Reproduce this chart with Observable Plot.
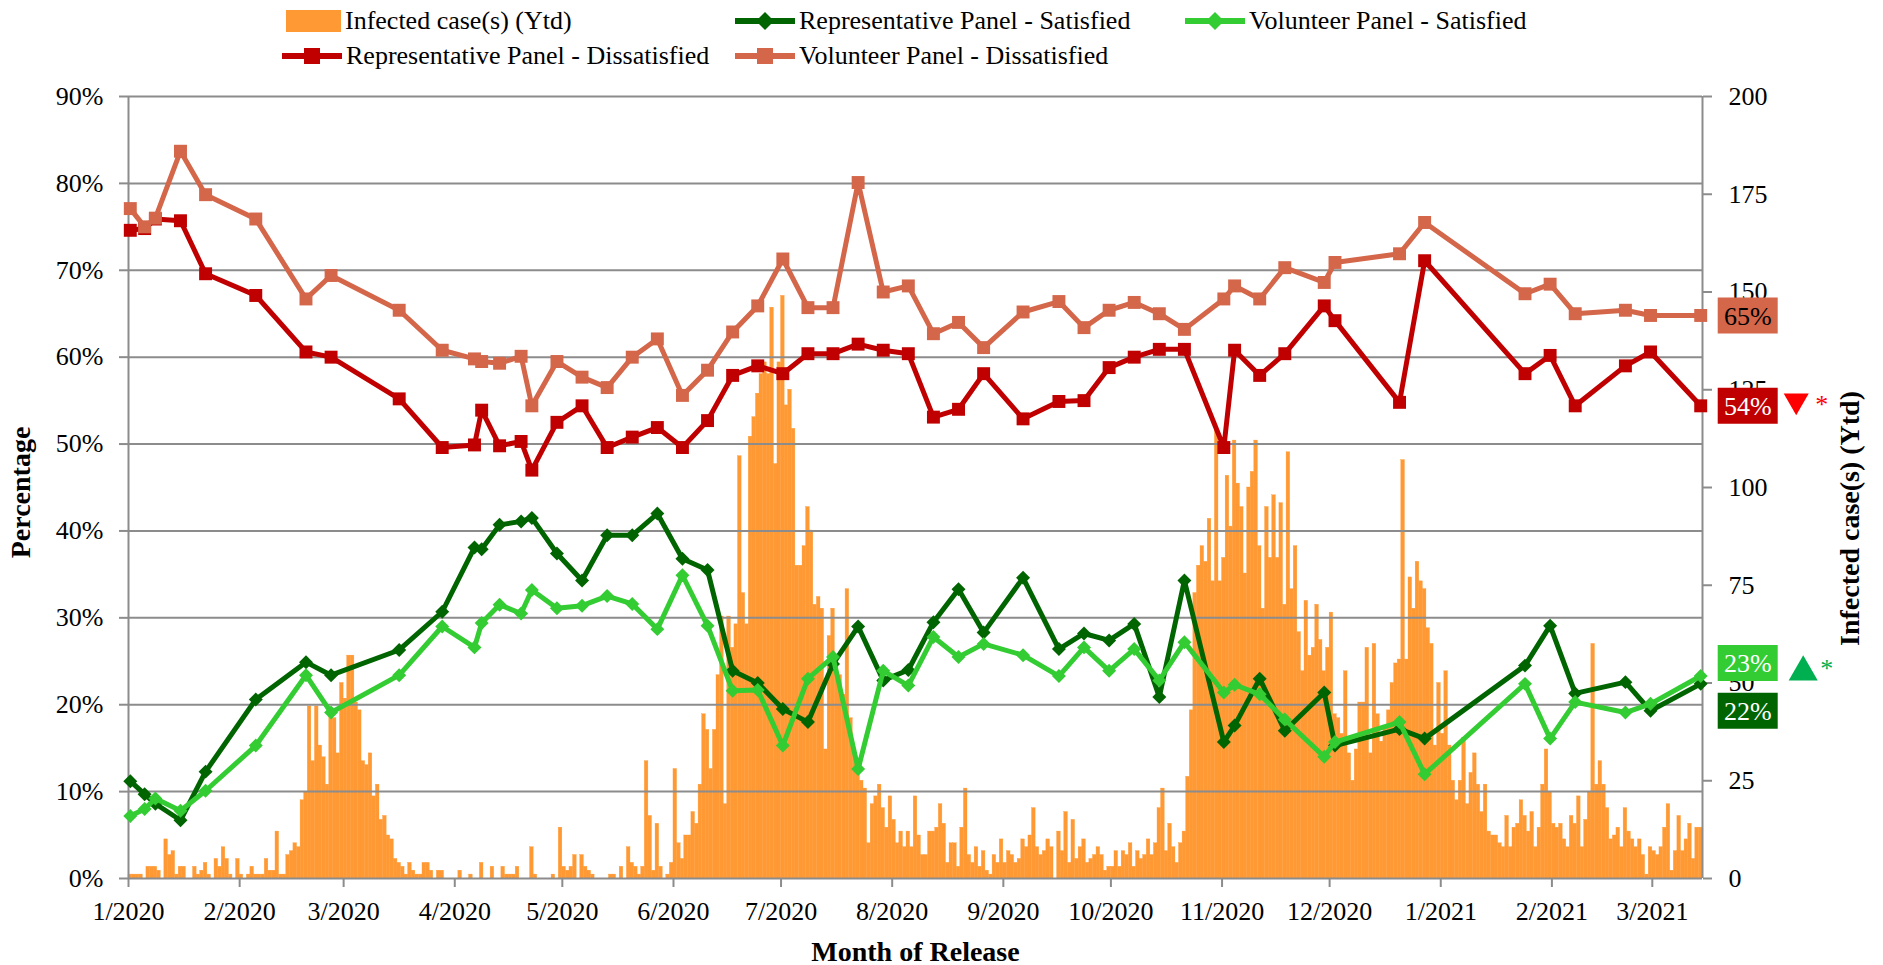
<!DOCTYPE html>
<html><head><meta charset="utf-8">
<script src="https://cdn.jsdelivr.net/npm/d3@7"></script>
<script src="https://cdn.jsdelivr.net/npm/@observablehq/plot@0.6"></script>
<style>
html,body{margin:0;padding:0;background:#fff;overflow:hidden;}
body{font-family:'Liberation Serif','Times New Roman',serif;color:#000;}
#legend{position:relative;width:1883px;height:70px;font-size:26px;}
#legend .sym{position:absolute;}
#legend .lab{position:absolute;line-height:36px;height:36px;white-space:nowrap;}
</style></head><body>
<div id="legend"></div>
<div id="chart"></div>
<script>
// ---------------- data ----------------
const caseStart = "2020-01-01";
const dailyCases = [
1,1,1,1,0,3,3,3,2,0, 10,6,7,1,3,3,0,0,3,1, 2,4,1,0,5,3,8,5,1,0, 5,1,0,1,3,1,1,1,5,2,
2,12,1,1,6,7,9,8,20,22, 44,30,44,34,31,24,42,41,32,50, 46,57,57,45,43,30,29,32,21,24, 15,16,11,10,5,4,3,1,4,2,
1,1,4,4,2,0,2,2,0,0, 0,0,2,0,0,1,0,0,4,0, 0,3,0,0,3,1,1,1,3,0, 0,0,8,1,0,0,0,0,1,0,
13,3,2,3,6,0,6,3,2,1, 0,0,0,0,1,1,0,3,0,8, 4,3,1,3,30,16,2,14,3,0, 1,4,28,9,5,11,11,17,14,24,
42,38,28,38,52,67,19,67,59,65, 108,73,65,113,118,124,129,132,129,146, 106,132,149,121,125,115,80,80,85,95, 89,70,72,69,33,62,69,56,52,47,
74,41,33,28,25,23,9,19,21,24, 18,13,21,15,9,12,8,12,8,21, 11,6,6,12,12,13,19,14,4,9, 9,3,13,23,6,4,8,3,7,2,
1,6,4,10,4,7,6,4,5,10, 8,11,18,8,6,7,10,8,0,12, 7,17,4,15,5,8,10,4,5,6, 8,6,2,3,3,7,3,7,6,9,
3,7,5,6,10,6,9,18,23,7, 14,8,4,9,12,26,43,73,80,85, 81,92,76,115,76,82,103,90,112,101, 95,78,100,104,112,85,69,95,82,98,
82,96,70,109,74,85,63,53,71,57, 59,70,61,53,59,68,42,41,37,53, 32,25,33,45,45,59,32,60,42,35, 39,43,50,55,56,107,56,77,69,81,
76,74,64,60,34,50,37,53,34,25, 20,25,36,19,27,32,24,17,24,12, 11,11,9,8,16,8,13,14,20,16, 12,17,8,13,24,33,22,14,13,14,
10,8,16,14,21,8,15,22,60,24, 30,24,18,10,11,13,8,18,12,10, 8,10,6,1,8,7,6,8,13,19, 2,7,16,7,10,14,5,13,13
];
const surveyDates = [
"2020-01-01","2020-01-05","2020-01-08","2020-01-15","2020-01-22","2020-02-05","2020-02-19","2020-02-26","2020-03-16","2020-03-28",
"2020-04-06","2020-04-08","2020-04-13","2020-04-19","2020-04-22","2020-04-29","2020-05-06","2020-05-13","2020-05-20","2020-05-27",
"2020-06-03","2020-06-10","2020-06-17","2020-06-24","2020-07-01","2020-07-08","2020-07-15","2020-07-22","2020-07-29","2020-08-05",
"2020-08-12","2020-08-19","2020-08-26","2020-09-06","2020-09-16","2020-09-23","2020-09-30","2020-10-07","2020-10-14","2020-10-21",
"2020-11-01","2020-11-04","2020-11-11","2020-11-18","2020-11-29","2020-12-02","2020-12-20","2020-12-27","2021-01-24","2021-01-31",
"2021-02-07","2021-02-21","2021-02-28","2021-03-14"
];
const repSatisfied = [11.2,9.7,8.6,6.7,12.3,20.6,24.9,23.4,26.3,30.7, 38.1,37.9,40.7,41.1,41.5,37.4,34.3,39.5,39.5,42.0,
 36.8,35.5,23.9,22.5,19.5,18.0,24.7,29.0,22.8,24.0, 29.5,33.3,28.3,34.6,26.4,28.2,27.4,29.3,20.9,34.3,
 15.7,17.6,23.0,17.0,21.4,15.3,17.2,16.1,24.5,29.1, 21.3,22.6,19.3,22.4];
const volSatisfied = [7.2,8.0,9.2,7.8,10.1,15.3,23.4,19.1,23.4,29.0, 26.6,29.4,31.5,30.5,33.2,31.1,31.4,32.5,31.6,28.7,
 34.9,29.1,21.6,21.7,15.3,23.0,25.5,12.6,23.9,22.2, 27.8,25.5,27.0,25.7,23.3,26.6,23.9,26.4,22.8,27.2,
 21.4,22.3,21.2,18.3,14.0,15.7,18.0,12.0,22.4,16.1, 20.3,19.1,20.1,23.3];
const repDissatisfied = [74.6,74.8,75.9,75.7,69.6,67.1,60.6,60.0,55.2,49.6, 49.9,53.9,49.8,50.3,47.0,52.5,54.4,49.6,50.8,51.9,
 49.6,52.7,57.9,59.0,58.1,60.4,60.4,61.5,60.8,60.4, 53.1,54.0,58.1,52.9,54.9,55.0,58.8,60.0,60.9,60.9,
 49.6,60.8,57.9,60.4,65.9,64.2,54.8,71.1,58.1,60.2, 54.4,59.0,60.6,54.4];
const volDissatisfied = [77.1,75.0,76.0,83.7,78.7,75.9,66.7,69.4,65.4,60.8, 59.8,59.5,59.3,60.1,54.4,59.5,57.7,56.5,60.0,62.1,
 55.6,58.5,62.9,65.9,71.3,65.7,65.7,80.1,67.5,68.2, 62.7,64.0,61.1,65.2,66.4,63.4,65.4,66.3,65.0,63.2,
 66.7,68.2,66.7,70.3,68.6,70.9,71.9,75.5,67.3,68.4, 65.0,65.4,64.8,64.8];
const seriesNames = ["Infected case(s) (Ytd)","Representative Panel - Satisfied","Volunteer Panel - Satisfied",
 "Representative Panel - Dissatisfied","Volunteer Panel - Dissatisfied"];
const monthTicks = ["2020-01-01","2020-02-01","2020-03-01","2020-04-01","2020-05-01","2020-06-01","2020-07-01","2020-08-01",
 "2020-09-01","2020-10-01","2020-11-01","2020-12-01","2021-01-01","2021-02-01","2021-03-01"];
const monthTickLabels = ["1/2020","2/2020","3/2020","4/2020","5/2020","6/2020","7/2020","8/2020","9/2020","10/2020",
 "11/2020","12/2020","1/2021","2/2021","3/2021"];
const leftTicks = [0,10,20,30,40,50,60,70,80,90];
const rightTicks = [0,25,50,75,100,125,150,175,200];
const xDomain = ["2020-01-01","2021-03-15"];

// ---------------- styles ----------------
const ORANGE = "#FF9933", RS_C = "#006400", VS_C = "#33CC33", RD_C = "#C00000", VD_C = "#D4664A", GRID = "#8C8C8C";
const FONT = "'Liberation Serif','Times New Roman',serif";
const k = 90 / 200; // right-axis cases -> left-axis percent
const DAY = 86400000;
const utc = s => new Date(s + "T00:00:00Z");

const t0 = +utc(caseStart);
const cases = dailyCases.map((v, i) => ({start: new Date(t0 + i * DAY), end: new Date(t0 + (i + 1) * DAY), value: v}));
const survey = surveyDates.map((s, i) => ({
  date: new Date(+utc(s) + DAY / 2),
  rs: repSatisfied[i], vs: volSatisfied[i], rd: repDissatisfied[i], vd: volDissatisfied[i]
}));
const last = survey[survey.length - 1];

const series = [
  {key: "rs", color: RS_C, symbol: "diamond2", r: 6.3},
  {key: "vs", color: VS_C, symbol: "diamond2", r: 6.3},
  {key: "rd", color: RD_C, symbol: "square", r: 7.3},
  {key: "vd", color: VD_C, symbol: "square", r: 7.3}
];
const endLabels = [
  {key: "vd", fill: VD_C, text: "#000", dy: 0},
  {key: "rd", fill: RD_C, text: "#fff", dy: 0},
  {key: "vs", fill: VS_C, text: "#fff", dy: -13},
  {key: "rs", fill: RS_C, text: "#fff", dy: 27}
];
const boxSymbol = {draw(ctx) { ctx.moveTo(-30, -18); ctx.lineTo(30, -18); ctx.lineTo(30, 18); ctx.lineTo(-30, 18); ctx.closePath(); }};
const tickLabelMap = new Map(monthTicks.map((s, i) => [+utc(s), monthTickLabels[i]]));

const marks = [
  Plot.rectY(cases, {x1: "start", x2: "end", y: d => d.value * k, fill: ORANGE, stroke: ORANGE, strokeWidth: 0.35}),
  Plot.ruleY(leftTicks, {stroke: GRID, strokeWidth: 2}),
  Plot.ruleX(xDomain.map(utc), {stroke: GRID, strokeWidth: 2}),
  Plot.axisY({ticks: leftTicks, anchor: "left", tickFormat: d => d + "%", tickSize: 9, tickPadding: 16,
    stroke: GRID, strokeWidth: 2, label: null, fill: "#000"}),
  Plot.axisY({ticks: rightTicks.map(v => v * k), anchor: "right", tickFormat: v => String(Math.round(v / k)),
    tickSize: 9, tickPadding: 17, stroke: GRID, strokeWidth: 2, label: null, fill: "#000"}),
  Plot.axisX({ticks: monthTicks.map(utc), tickFormat: d => tickLabelMap.get(+d), tickSize: 9, tickPadding: 14,
    stroke: GRID, strokeWidth: 2, label: null, fill: "#000"})
];
for (const s of series) {
  marks.push(Plot.line(survey, {x: "date", y: s.key, stroke: s.color, strokeWidth: 5}));
  marks.push(Plot.dot(survey, {x: "date", y: s.key, fill: s.color, symbol: s.symbol, r: s.r}));
}
for (const L of endLabels) {
  marks.push(Plot.dot([last], {x: "date", y: L.key, symbol: boxSymbol, fill: L.fill, dx: 47, dy: L.dy}));
  marks.push(Plot.text([last], {x: "date", y: L.key, text: d => Math.round(d[L.key]) + "%", fill: L.text,
    fontSize: 26, textAnchor: "middle", lineAnchor: "middle", dx: 47, dy: L.dy + 1}));
}
marks.push(
  Plot.dot([last], {x: "date", y: "rd", symbol: "triangle", rotate: 180, r: 9.3, fill: "#FF0000", dx: 95.5, dy: -5}),
  Plot.text([last], {x: "date", y: "rd", text: () => "*", fill: "#FF0000", fontSize: 26, lineAnchor: "bottom", dx: 121, dy: 7}),
  Plot.dot([last], {x: "date", y: "vs", symbol: "triangle", r: 10.8, fill: "#00B050", dx: 102.5, dy: -4}),
  Plot.text([last], {x: "date", y: "vs", text: () => "*", fill: "#00B050", fontSize: 26, lineAnchor: "bottom", dx: 126, dy: 1}),
  Plot.text(["Percentage"], {frameAnchor: "left", text: d => d, rotate: -90, dx: -107, dy: 5, fontSize: 28,
    fontWeight: "bold", textAnchor: "middle", lineAnchor: "middle", fill: "#000"}),
  Plot.text([seriesNames[0]], {frameAnchor: "right", text: d => d, rotate: -90, dx: 148, dy: 31, fontSize: 28,
    fontWeight: "bold", textAnchor: "middle", lineAnchor: "middle", fill: "#000"}),
  Plot.text(["Month of Release"], {frameAnchor: "bottom", text: d => d, dy: 82, fontSize: 28,
    fontWeight: "bold", textAnchor: "middle", lineAnchor: "bottom", fill: "#000"})
);

const chart = Plot.plot({
  width: 1883, height: 895,
  marginLeft: 128, marginRight: 181, marginTop: 26, marginBottom: 87,
  x: {type: "utc", domain: xDomain.map(utc), label: null},
  y: {domain: [0, 90], label: null},
  style: {fontFamily: FONT, fontSize: "26px", background: "#fff", color: "#000", overflow: "visible"},
  marks
});
document.getElementById("chart").appendChild(chart);

// ---------------- legend ----------------
const legendItems = [
  {name: seriesNames[0], type: "bar", color: ORANGE, left: 286, text: 345, row: 0},
  {name: seriesNames[1], type: "diamond", color: RS_C, left: 735, text: 799, row: 0},
  {name: seriesNames[2], type: "diamond", color: VS_C, left: 1185, text: 1249, row: 0},
  {name: seriesNames[3], type: "square", color: RD_C, left: 282, text: 346, row: 1},
  {name: seriesNames[4], type: "square", color: VD_C, left: 735, text: 799, row: 1}
];
const rowCenters = [21, 56];
const legend = document.getElementById("legend");
for (const it of legendItems) {
  const cy = rowCenters[it.row];
  let inner;
  if (it.type === "bar") inner = `<rect x="0" y="7" width="55" height="22" fill="${it.color}"/>`;
  else {
    inner = `<line x1="0" x2="60" y1="18" y2="18" stroke="${it.color}" stroke-width="6"/>`;
    inner += it.type === "diamond"
      ? `<polygon points="30,9 39,18 30,27 21,18" fill="${it.color}"/>`
      : `<rect x="22" y="10" width="16" height="16" fill="${it.color}"/>`;
  }
  const sym = document.createElement("div");
  sym.className = "sym";
  sym.style.left = it.left + "px"; sym.style.top = (cy - 18) + "px";
  sym.innerHTML = `<svg width="60" height="36" style="display:block">${inner}</svg>`;
  legend.appendChild(sym);
  const lab = document.createElement("div");
  lab.className = "lab";
  lab.style.left = it.text + "px"; lab.style.top = (cy - 18) + "px";
  lab.textContent = it.name;
  legend.appendChild(lab);
}
</script></body></html>
